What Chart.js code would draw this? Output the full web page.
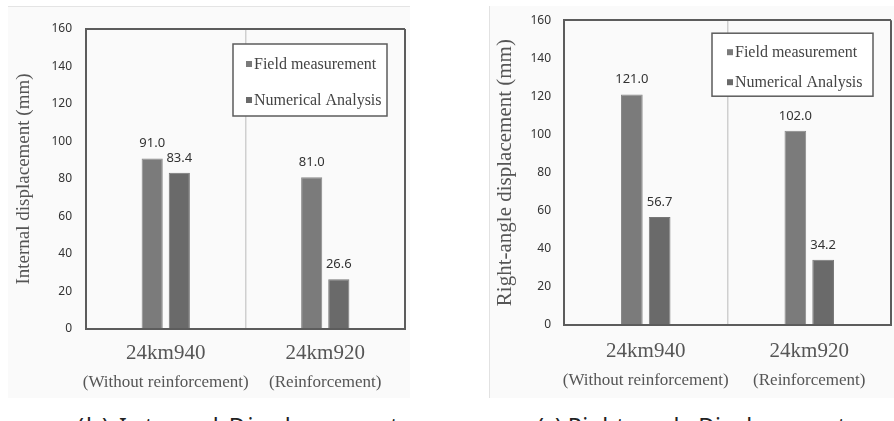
<!DOCTYPE html>
<html>
<head>
<meta charset="utf-8">
<script src="https://cdn.jsdelivr.net/npm/chart.js@4.4.1/dist/chart.umd.min.js"></script>
<style>
body { margin: 0; background: #fff; width: 894px; height: 421px; overflow: hidden; position: relative; font-family: "Noto Sans", sans-serif; }
.panel { position: absolute; background: #fafafa; }
#p1 { left: 8px; top: 6px; width: 402px; height: 391px; border-top: 1px solid #e4e4e4; }
#p2 { left: 489px; top: 6px; width: 405px; height: 392px; border-left: 1px solid #e2e2e2; }
canvas { position: absolute; top: 0; }
.cap { position: absolute; top: 415px; font-size: 23px; line-height: 23px; color: #222; white-space: nowrap; }
</style>
</head>
<body>
<div class="panel" id="p1"></div>
<div class="panel" id="p2"></div>
<canvas id="internal" width="430" height="400" style="left:0"></canvas>
<canvas id="rightangle" width="450" height="400" style="left:444px"></canvas>
<div class="cap" style="left:77px; letter-spacing:2px">(b) Internal Displacement</div>
<div class="cap" style="left:537px">(c) Right-angle Displacement</div>
<script>
// Chart values
var sites = ['24km940', '24km920'];
var siteNotes = ['(Without reinforcement)', '(Reinforcement)'];
var seriesNames = ['Field measurement', 'Numerical Analysis'];
var internalField = [91.0, 81.0];
var internalNumerical = [83.4, 26.6];
var rightAngleField = [121.0, 102.0];
var rightAngleNumerical = [56.7, 34.2];
var yMin = 0, yMax = 160, yStep = 20;

var FRAME = '#5c5c5c';
var SERIF = '"Liberation Serif", serif';
var SANS = '"Noto Sans", sans-serif';

/**
 * Draw the value above every bar
 */
var valueLabels = {
    id: 'valueLabels',
    afterDatasetsDraw: function(chart) {
        var ctx = chart.ctx;
        ctx.save();
        ctx.font = '13px ' + SANS;
        ctx.fillStyle = '#333';
        ctx.textAlign = 'center';
        ctx.textBaseline = 'alphabetic';
        chart.data.datasets.forEach(function(ds, i) {
            chart.getDatasetMeta(i).data.forEach(function(bar, j) {
                ctx.fillText(ds.data[j].toFixed(1), bar.x, bar.y - 11);
            });
        });
        ctx.restore();
    }
};

/**
 * Boxed legend inside the top right corner of the plot
 */
var boxLegend = {
    id: 'boxLegend',
    afterDraw: function(chart, args, opts) {
        var ctx = chart.ctx;
        var area = chart.chartArea;
        var x = area.right - opts.right - opts.width;
        var y = area.top + opts.top;
        ctx.save();
        ctx.fillStyle = '#fff';
        ctx.fillRect(x, y, opts.width, opts.height);
        ctx.strokeStyle = FRAME;
        ctx.lineWidth = 1.5;
        ctx.strokeRect(x, y, opts.width, opts.height);
        ctx.font = '16px ' + SERIF;
        ctx.textBaseline = 'middle';
        chart.data.datasets.forEach(function(ds, i) {
            var cy = y + opts.firstRow + i * opts.rowGap;
            ctx.fillStyle = ds.backgroundColor;
            ctx.fillRect(x + opts.padLeft, cy - 3, 6, 6);
            ctx.fillStyle = '#444';
            ctx.fillText(ds.label, x + opts.padLeft + 8, cy + 1);
        });
        ctx.restore();
    }
};

function makeChart(id, title, field, numerical, lay) {
    return new Chart(document.getElementById(id), {
        type: 'bar',
        data: {
            labels: sites,
            datasets: [{
                label: seriesNames[0],
                data: field,
                backgroundColor: '#7b7b7b',
                borderColor: '#888',
                borderWidth: 1,
                categoryPercentage: 0.34,
                barPercentage: 0.78
            }, {
                label: seriesNames[1],
                data: numerical,
                backgroundColor: '#6a6a6a',
                borderColor: '#777',
                borderWidth: 1,
                categoryPercentage: 0.34,
                barPercentage: 0.78
            }]
        },
        options: {
            responsive: false,
            animation: false,
            layout: { padding: { left: 0, right: lay.padRight, top: lay.padTop, bottom: 0 } },
            plugins: {
                legend: { display: false },
                tooltip: { enabled: false },
                boxLegend: lay.legend
            },
            scales: {
                x: {
                    weight: 0,
                    offset: true,
                    grid: {
                        offset: true,
                        drawTicks: false,
                        color: function(c) { return c.index === 1 ? '#cfcfcf' : FRAME; },
                        lineWidth: function(c) { return c.index === 1 ? 1.5 : 2; }
                    },
                    border: { color: FRAME, width: 2 },
                    ticks: {
                        padding: lay.xPad, color: '#555', maxRotation: 0, minRotation: 0, autoSkip: false,
                        font: { family: SERIF, size: 21 }
                    },
                    afterFit: function(s) { s.height = 40; }
                },
                x2: {
                    type: 'category',
                    position: 'bottom',
                    weight: 1,
                    offset: true,
                    labels: siteNotes,
                    grid: { display: false, drawTicks: false },
                    border: { display: false },
                    ticks: {
                        padding: lay.x2Pad, color: '#555', maxRotation: 0, minRotation: 0, autoSkip: false,
                        font: { family: SERIF, size: 17 }
                    },
                    afterFit: function(s) { s.height = lay.x2Height; }
                },
                y: {
                    min: yMin,
                    max: yMax,
                    ticks: { stepSize: yStep, padding: lay.yPad, color: '#333', font: { family: SANS, size: 12 } },
                    grid: {
                        drawTicks: false,
                        color: function(c) { return c.tick && c.tick.value === yMax ? FRAME : 'transparent'; },
                        lineWidth: 2
                    },
                    border: { color: FRAME, width: 2 },
                    title: {
                        display: true,
                        text: title,
                        color: '#555',
                        padding: { top: lay.titlePad, bottom: 0 },
                        font: { family: SERIF, size: lay.titleSize }
                    },
                    afterFit: function(s) { s.width = lay.yWidth; }
                }
            }
        },
        plugins: [valueLabels, boxLegend]
    });
}

makeChart('internal', 'Internal displacement (mm)', internalField, internalNumerical, {
    padRight: 25, padTop: 29, yWidth: 86, yPad: 14, titlePad: 13, titleSize: 19,
    xPad: 12, x2Pad: 3, x2Height: 31,
    legend: { right: 18, top: 15, width: 154, height: 72, firstRow: 20, rowGap: 36, padLeft: 13 }
});

makeChart('rightangle', 'Right-angle displacement (mm)', rightAngleField, rightAngleNumerical, {
    padRight: 3, padTop: 20, yWidth: 120, yPad: 13, titlePad: 49, titleSize: 21,
    xPad: 14, x2Pad: 5, x2Height: 35,
    legend: { right: 18, top: 13, width: 161, height: 63, firstRow: 19, rowGap: 30, padLeft: 15 }
});
</script>
</body>
</html>
